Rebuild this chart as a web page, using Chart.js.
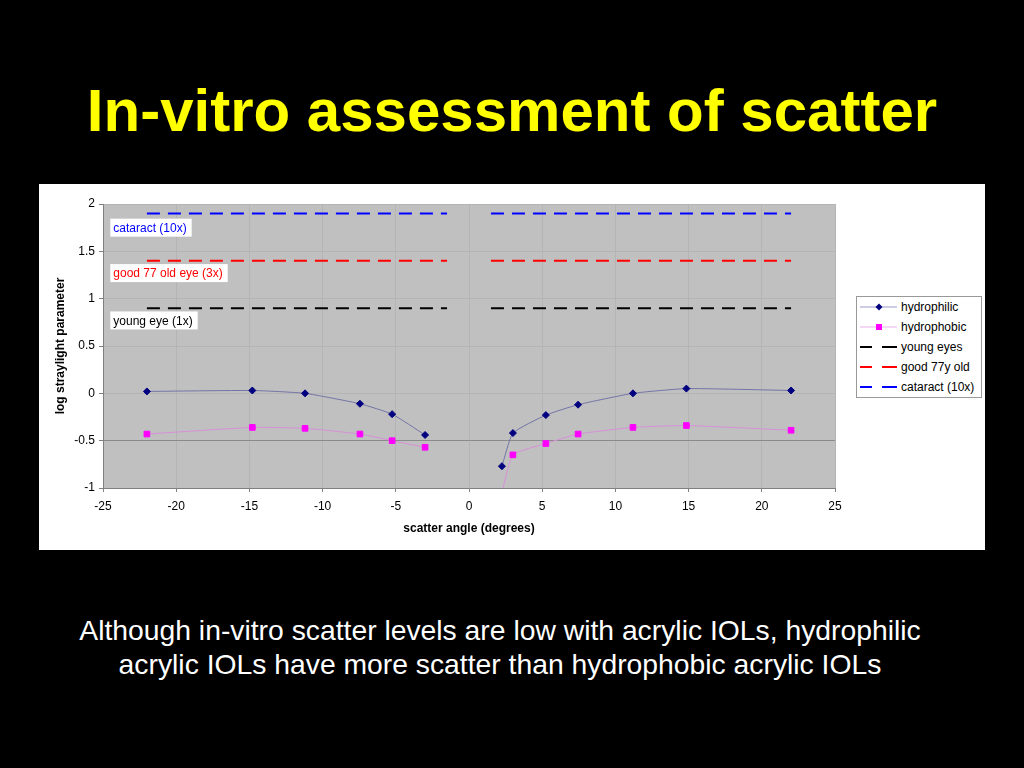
<!DOCTYPE html>
<html>
<head>
<meta charset="utf-8">
<script src="https://cdn.jsdelivr.net/npm/chart.js@4.4.1/dist/chart.umd.min.js"></script>
<style>
    body { margin: 0; background: #000; width: 1024px; height: 768px; overflow: hidden;
           font-family: "Liberation Sans", Arial, sans-serif; }
    #title { position: absolute; left: 0; top: 76px; width: 1024px; text-align: center;
             color: #ffff00; font-weight: bold; font-size: 60px; line-height: 70px; }
    #panel { position: absolute; left: 39px; top: 184px; width: 946px; height: 366px; background: #fff; }
    #legend { position: absolute; left: 856px; top: 296px; width: 124px; height: 100px;
              border: 1px solid #999; background: #fff; }
    .row { display: flex; align-items: center; height: 20px; font-size: 12px; color: #000; }
    .row svg { margin-left: 3px; margin-right: 4px; }
    #caption { position: absolute; left: 0; top: 613px; width: 1000px; text-align: center;
               color: #fff; font-size: 28.3px; line-height: 34px; }
</style>
</head>
<body>
<div id="title">In-vitro assessment of scatter</div>
<div id="panel"><canvas id="scatter_chart" width="946" height="366"></canvas></div>
<div id="legend"></div>
<div id="caption">Although in-vitro scatter levels are low with acrylic IOLs, hydrophilic<br>acrylic IOLs have more scatter than hydrophobic acrylic IOLs</div>

<script>
// measured angles (degrees), 0 is the gap between the two sides
const angles = [-22, -14.8, -11.2, -7.45, -5.25, -3, 0, 2.25, 3, 5.25, 7.45, 11.2, 14.85, 22];
const hydrophilic = [0.02, 0.03, 0, -0.11, -0.22, -0.44, null, -0.77, -0.42, -0.23, -0.12, 0, 0.05, 0.03];
const hydrophobic = [-0.43, -0.36, -0.37, -0.43, -0.5, -0.57, null, -1.05, -0.65, -0.53, -0.43, -0.36, -0.34, -0.39];

// reference levels
const guideX = [-22, -1.5, 0, 1.5, 22];
const youngEyes = [0.9, 0.9, null, 0.9, 0.9];
const goodOld = [1.4, 1.4, null, 1.4, 1.4];
const cataract = [1.9, 1.9, null, 1.9, 1.9];

// boxed notes inside the plot
const noteText = ["cataract (10x)", "good 77 old eye (3x)", "young eye (1x)"];
const noteColor = ["#0000ff", "#ff0000", "#000000"];
const noteX = -24.5;
const noteY = [1.75, 1.27, 0.77];

const legendNames = ["hydrophilic", "hydrophobic", "young eyes", "good 77y old", "cataract (10x)"];

const FONT = "'Liberation Sans', Arial, sans-serif";

toPoints = (xs, ys) => xs.map((x, i) => ({ x: x, y: ys[i] }));

// grey plot area like the spreadsheet
const plotBackground = {
    id: "plotBackground",
    beforeDraw(chart) {
        const { ctx, chartArea } = chart;
        ctx.save();
        ctx.fillStyle = "#c0c0c0";
        ctx.fillRect(chartArea.left, chartArea.top, chartArea.width, chartArea.height);
        ctx.restore();
    }
};

const noteBoxes = {
    id: "noteBoxes",
    afterDatasetsDraw(chart) {
        const { ctx, scales } = chart;
        ctx.save();
        ctx.font = "12px " + FONT;
        ctx.textBaseline = "middle";
        noteText.forEach((t, i) => {
            const left = scales.x.getPixelForValue(noteX);
            const mid = scales.y.getPixelForValue(noteY[i]);
            const w = ctx.measureText(t).width + 8;
            ctx.fillStyle = "#fff";
            ctx.fillRect(left, mid - 9, w, 18);
            ctx.fillStyle = noteColor[i];
            ctx.fillText(t, left + 3, mid + 1);
        });
        ctx.restore();
    }
};

const guide = (label, ys, color) => ({
    label: label,
    data: toPoints(guideX, ys),
    borderColor: color,
    borderWidth: 2,
    borderDash: [13, 8],
    pointRadius: 0,
    spanGaps: false
});

new Chart("scatter_chart", {
    type: "line",
    data: {
        datasets: [
            {
                label: legendNames[0],
                data: toPoints(angles, hydrophilic),
                borderColor: "#7474a8",
                borderWidth: 1,
                pointStyle: "rectRot",
                pointRadius: 3.5,
                pointBackgroundColor: "#000080",
                pointBorderColor: "#000080",
                pointBorderWidth: 1,
                tension: 0.15,
                spanGaps: false
            },
            {
                label: legendNames[1],
                data: toPoints(angles, hydrophobic),
                borderColor: "#d890d8",
                borderWidth: 1,
                pointStyle: "rect",
                pointRadius: 4,
                pointBackgroundColor: "#ff00ff",
                pointBorderColor: "#ff00ff",
                pointBorderWidth: 1,
                tension: 0.15,
                spanGaps: false
            },
            guide(legendNames[2], youngEyes, "#000000"),
            guide(legendNames[3], goodOld, "#ff0000"),
            guide(legendNames[4], cataract, "#0000ff")
        ]
    },
    options: {
        responsive: false,
        animation: false,
        layout: { padding: { top: 20, right: 150, left: 0, bottom: 0 } },
        plugins: {
            legend: { display: false },
            tooltip: { enabled: false }
        },
        scales: {
            x: {
                type: "linear",
                min: -25,
                max: 25,
                afterFit: (s) => { s.height = 62; },
                ticks: { stepSize: 5, color: "#000", padding: 7, font: { family: FONT, size: 12 } },
                grid: { color: "#b4b4b4", tickColor: "#808080", tickLength: 4 },
                border: { color: "#808080" },
                title: {
                    display: true,
                    text: "scatter angle (degrees)",
                    color: "#000",
                    font: { family: FONT, size: 12, weight: "bold" },
                    padding: { top: 4, bottom: 14 }
                }
            },
            y: {
                min: -1,
                max: 2,
                afterFit: (s) => { s.width = 64; },
                ticks: {
                    stepSize: 0.5, color: "#000", padding: 4, font: { family: FONT, size: 12 },
                    callback: (v) => String(Number(v))
                },
                grid: {
                    color: (c) => (c.tick && c.tick.value === -0.5) ? "#8a8a8a" : "#b4b4b4",
                    tickColor: "#808080",
                    tickLength: 4
                },
                border: { color: "#808080" },
                title: {
                    display: true,
                    text: "log straylight parameter",
                    color: "#000",
                    font: { family: FONT, size: 12, weight: "bold" },
                    padding: { top: 14, bottom: 0 }
                }
            }
        }
    },
    plugins: [plotBackground, noteBoxes]
});

// legend, drawn as html next to the chart
const icons = [
    '<line x1="0" y1="10" x2="37" y2="10" stroke="#9a9acc" stroke-width="1"/><polygon points="19,6.5 22.5,10 19,13.5 15.5,10" fill="#000080"/>',
    '<line x1="0" y1="10" x2="37" y2="10" stroke="#eab0ea" stroke-width="1"/><rect x="16" y="7" width="6" height="6" fill="#ff00ff"/>',
    '<line x1="0" y1="10" x2="12" y2="10" stroke="#000" stroke-width="2"/><line x1="22" y1="10" x2="37" y2="10" stroke="#000" stroke-width="2"/>',
    '<line x1="0" y1="10" x2="12" y2="10" stroke="#ff0000" stroke-width="2"/><line x1="22" y1="10" x2="37" y2="10" stroke="#ff0000" stroke-width="2"/>',
    '<line x1="0" y1="10" x2="12" y2="10" stroke="#0000ff" stroke-width="2"/><line x1="22" y1="10" x2="37" y2="10" stroke="#0000ff" stroke-width="2"/>'
];
const legend = document.getElementById("legend");
legendNames.map((name, i) => {
    const row = document.createElement("div");
    row.className = "row";
    row.innerHTML = '<svg width="37" height="20">' + icons[i] + '</svg><span>' + name + '</span>';
    legend.appendChild(row);
});
</script>
</body>
</html>
